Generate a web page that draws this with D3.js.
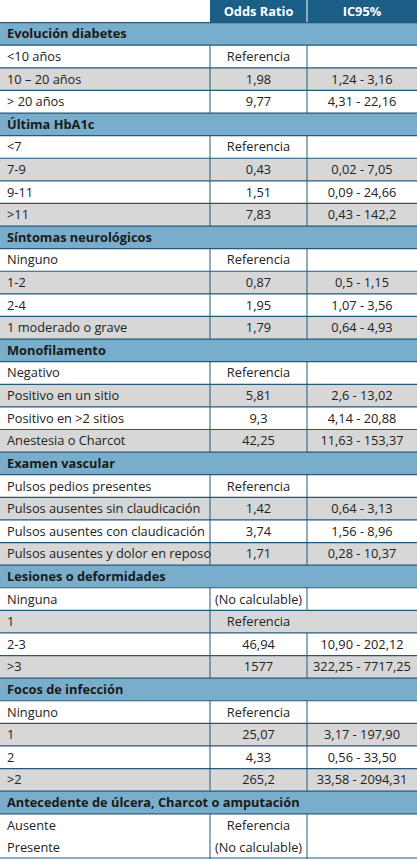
<!DOCTYPE html>
<html><head><meta charset="utf-8">
<script src="https://cdn.jsdelivr.net/npm/d3@7"></script>
<style>body{margin:0;background:#fff}</style>
</head><body><svg id="t"></svg>
<script>
const columns = ["", "Odds Ratio", "IC95%"];
const sections = ["Evolución diabetes","Última HbA1c","Síntomas neurológicos","Monofilamento","Examen vascular","Lesiones o deformidades","Focos de infección","Antecedente de úlcera, Charcot o amputación"];
const categories = [
  ["<10 años","10 – 20 años","> 20 años"],
  ["<7","7-9","9-11",">11"],
  ["Ninguno","1-2","2-4","1 moderado o grave"],
  ["Negativo","Positivo en un sitio","Positivo en >2 sitios","Anestesia o Charcot"],
  ["Pulsos pedios presentes","Pulsos ausentes sin claudicación","Pulsos ausentes con claudicación","Pulsos ausentes y dolor en reposo"],
  ["Ninguna","1","2-3",">3"],
  ["Ninguno","1","2",">2"],
  ["Ausente","Presente"]
];
const oddsRatio = [
  ["Referencia","1,98","9,77"],
  ["Referencia","0,43","1,51","7,83"],
  ["Referencia","0,87","1,95","1,79"],
  ["Referencia","5,81","9,3","42,25"],
  ["Referencia","1,42","3,74","1,71"],
  ["(No calculable)","Referencia","46,94","1577"],
  ["Referencia","25,07","4,33","265,2"],
  ["Referencia","(No calculable)"]
];
const ic95 = [
  ["","1,24 - 3,16","4,31 - 22,16"],
  ["","0,02 - 7,05","0,09 - 24,66","0,43 - 142,2"],
  ["","0,5 - 1,15","1,07 - 3,56","0,64 - 4,93"],
  ["","2,6 - 13,02","4,14 - 20,88","11,63 - 153,37"],
  ["","0,64 - 3,13","1,56 - 8,96","0,28 - 10,37"],
  ["","","10,90 - 202,12","322,25 - 7717,25"],
  ["","3,17 - 197,90","0,56 - 33,50","33,58 - 2094,31"],
  ["",""]
];

const W = 417, H = 859;
const rows = [{type:"head"}];
sections.forEach((s, i) => {
  rows.push({type:"sec", label:s});
  categories[i].forEach((c, j) => rows.push({type:"data", label:c, or:oddsRatio[i][j], ic:ic95[i][j],
    grey: j%2===1 && i!==7, noDiv: i===5 && j===1}));
});
const y = d3.scaleBand().domain(d3.range(rows.length)).range([0, H]);
const x = d3.scaleOrdinal().domain([0,1,2,3]).range([0, 210, 307, W]);
const dark = "#1b5e86", sec = "#78aecb", grey = "#d7d7d7", line = "#24597b";
const font = "'Open Sans', sans-serif";
const fs = 12.8;

const svg = d3.select("#t").attr("width", W).attr("height", H);
const g = svg.selectAll("g.row").data(rows).join("g").attr("transform", (d, i) => `translate(0,${y(i)})`);
const h = y.bandwidth();

g.each(function(d) {
  const r = d3.select(this);
  if (d.type === "head") {
    r.append("rect").attr("x", x(1)).attr("width", W - x(1)).attr("height", h).attr("fill", dark);
    [1, 2].forEach(c => r.append("text").attr("x", (x(c) + x(c+1)) / 2).attr("y", h/2 + 4.5)
      .attr("text-anchor", "middle").attr("fill", "#fff").attr("font-family", font)
      .attr("font-weight", 700).attr("font-size", fs).text(columns[c]));
    r.append("line").attr("x1", x(2)).attr("x2", x(2)).attr("y1", 0).attr("y2", h).attr("stroke", "#fff").attr("stroke-width", 1);
  } else if (d.type === "sec") {
    r.append("rect").attr("width", W).attr("height", h).attr("fill", sec);
    r.append("text").attr("x", 7).attr("y", h/2 + 4.5).attr("fill", "#1a1a1a").attr("font-family", font)
      .attr("font-weight", 700).attr("font-size", fs).text(d.label);
  } else {
    r.append("rect").attr("width", W).attr("height", h).attr("fill", d.grey ? grey : "#fff");
    r.append("text").attr("x", 7).attr("y", h/2 + 4.5).attr("fill", "#222").attr("font-family", font).attr("font-size", fs).text(d.label);
    r.append("text").attr("x", (x(1)+x(2))/2).attr("y", h/2 + 4.5).attr("text-anchor","middle").attr("fill", "#222").attr("font-family", font).attr("font-size", fs).text(d.or);
    r.append("text").attr("x", (x(2)+x(3))/2).attr("y", h/2 + 4.5).attr("text-anchor","middle").attr("fill", "#222").attr("font-family", font).attr("font-size", fs).text(d.ic);
    (d.noDiv ? [1] : [1, 2]).forEach(c => r.append("line").attr("x1", x(c)).attr("x2", x(c)).attr("y1", 0).attr("y2", h).attr("stroke", line).attr("stroke-width", 1));
  }
});
// horizontal rules
svg.selectAll("line.h").data(d3.range(1, rows.length + 1).filter(i => !(rows[i-1] && rows[i-1].label === "Ausente" && i < rows.length)))
  .join("line").attr("class","h").attr("x1", 0).attr("x2", W)
  .attr("y1", i => Math.min(y(i) ?? H, H - 1)).attr("y2", i => Math.min(y(i) ?? H, H - 1))
  .attr("stroke", line).attr("stroke-width", 1.2);
</script></body></html>
